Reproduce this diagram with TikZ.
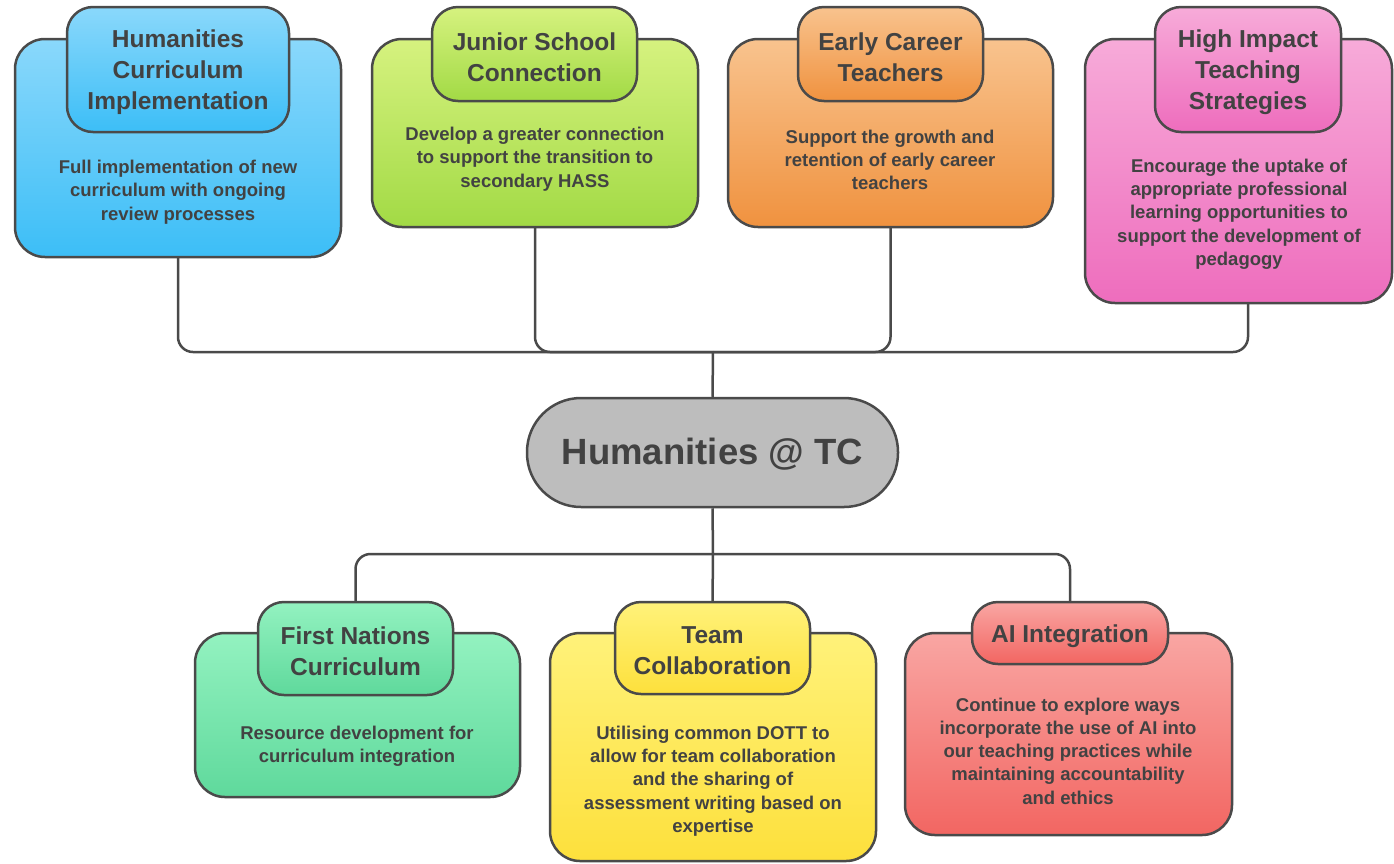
\documentclass[tikz,border=0pt]{standalone}
\usepackage{fontspec}
\setmainfont{Liberation Sans}
\usetikzlibrary{positioning,calc}

% colours of the cards (top / bottom of the shading)
\definecolor{linec}{HTML}{4A4A4A}
\definecolor{textc}{HTML}{424242}
\definecolor{hubc}{HTML}{BDBDBD}
\definecolor{blueT}{HTML}{8AD8FB}
\definecolor{blueB}{HTML}{3CBEF7}
\definecolor{limeT}{HTML}{D6F27F}
\definecolor{limeB}{HTML}{A2DA45}
\definecolor{orangeT}{HTML}{F8C38E}
\definecolor{orangeB}{HTML}{F0923F}
\definecolor{pinkT}{HTML}{F7ABD9}
\definecolor{pinkB}{HTML}{EE6DBD}
\definecolor{mintT}{HTML}{93F2C0}
\definecolor{mintB}{HTML}{5FD99C}
\definecolor{yellowT}{HTML}{FFF27A}
\definecolor{yellowB}{HTML}{FDE03C}
\definecolor{redT}{HTML}{F9A6A3}
\definecolor{redB}{HTML}{F26662}

\tikzset{
  card/.style={draw=linec, line width=2.5pt, rounded corners=30pt,
    inner sep=0pt, outer sep=0pt, anchor=north west},
  tab/.style={draw=linec, line width=2.5pt, rounded corners=26pt,
    inner sep=0pt, outer sep=0pt, anchor=north west},
  title/.style={text=textc, align=center, inner sep=0pt, yshift=-3pt,
    font=\bfseries\fontsize{24.5}{31}\selectfont},
  body/.style={text=textc, align=center, inner sep=0pt,
    font=\bfseries\fontsize{18.5}{23.3}\selectfont},
  link/.style={draw=linec, line width=2.5pt, rounded corners=15pt},
}

\begin{document}
\begin{tikzpicture}[x=1pt, y=-1pt]
    \useasboundingbox (0,0) rectangle (1394,863);

    % top row
    \node[card, top color=blueT, bottom color=blueB, minimum width=326pt, minimum height=218pt] (hci) at (15,39) {};
    \node[tab, top color=blueT, bottom color=blueB, minimum width=222pt, minimum height=125pt] (hci-tab) at (67,7) {};
    \node[title] (hci-ttl) at (hci-tab) {Humanities\\Curriculum\\Implementation};
    \node[body] (hci-txt) at (178,192) {Full implementation of new\\curriculum with ongoing\\review processes};

    \node[card, top color=limeT, bottom color=limeB, minimum width=326pt, minimum height=188pt] (jsc) at (372,39) {};
    \node[tab, top color=limeT, bottom color=limeB, minimum width=205pt, minimum height=94pt] (jsc-tab) at (432,7) {};
    \node[title] (jsc-ttl) at (jsc-tab) {Junior School\\Connection};
    \node[body] (jsc-txt) at (535,159) {Develop a greater connection\\to support the transition to\\secondary HASS};

    \node[card, top color=orangeT, bottom color=orangeB, minimum width=325pt, minimum height=188pt] (ect) at (728,39) {};
    \node[tab, top color=orangeT, bottom color=orangeB, minimum width=185pt, minimum height=94pt] (ect-tab) at (798,7) {};
    \node[title] (ect-ttl) at (ect-tab) {Early Career\\Teachers};
    \node[body] (ect-txt) at (890,160) {Support the growth and\\retention of early career\\teachers};

    \node[card, top color=pinkT, bottom color=pinkB, minimum width=307pt, minimum height=264pt] (hit) at (1085,39) {};
    \node[tab, top color=pinkT, bottom color=pinkB, minimum width=186pt, minimum height=125pt] (hit-tab) at (1155,7) {};
    \node[title] (hit-ttl) at (hit-tab) {High Impact\\Teaching\\Strategies};
    \node[body] (hit-txt) at (1239,214) {Encourage the uptake of\\appropriate professional\\learning opportunities to\\support the development of\\pedagogy};

    % centre
    \node[draw=linec, line width=2.5pt, fill=hubc, rounded corners=54pt, inner sep=0pt,
      minimum width=371pt, minimum height=109pt] (hub) at (712.5,452.5) {};
    \node[text=textc, inner sep=0pt, yshift=-2pt,
      font=\bfseries\fontsize{36.5}{40}\selectfont] (hub-ttl) at (hub) {Humanities @ TC};

    % bottom row
    \node[card, top color=mintT, bottom color=mintB, minimum width=325pt, minimum height=164pt] (fnc) at (195,633) {};
    \node[tab, top color=mintT, bottom color=mintB, minimum width=195pt, minimum height=93pt] (fnc-tab) at (258,602) {};
    \node[title] (fnc-ttl) at (fnc-tab) {First Nations\\Curriculum};
    \node[body] (fnc-txt) at (357,746) {Resource development for\\curriculum integration};

    \node[card, top color=yellowT, bottom color=yellowB, minimum width=326pt, minimum height=228pt] (tcol) at (550,633) {};
    \node[tab, top color=yellowT, bottom color=yellowB, minimum width=195pt, minimum height=92pt] (tcol-tab) at (615,602) {};
    \node[title] (tcol-ttl) at (tcol-tab) {Team\\Collaboration};
    \node[body] (tcol-txt) at (713,781) {Utilising common DOTT to\\allow for team collaboration\\and the sharing of\\assessment writing based on\\expertise};

    \node[card, top color=redT, bottom color=redB, minimum width=327pt, minimum height=202pt] (ai) at (905,633) {};
    \node[tab, top color=redT, bottom color=redB, minimum width=196pt, minimum height=62pt] (ai-tab) at (972,602) {};
    \node[title] (ai-ttl) at (ai-tab) {AI Integration};
    \node[body] (ai-txt) at (1068,751) {Continue to explore ways\\incorporate the use of AI into\\our teaching practices while\\maintaining accountability\\and ethics};

    % connectors
    \coordinate (topbus) at (713,352);
    \coordinate (botbus) at (713,554);
    \draw[link] (hci.south) |- (topbus);
    \draw[link] (jsc.south) |- (topbus);
    \draw[link] (ect.south) |- (topbus);
    \draw[link] (hit-tab.south |- hit.south) |- (topbus);
    \draw[link] (topbus) -- (hub.north);
    \draw[link] (hub.south) -- (botbus);
    \draw[link] (botbus) -| (fnc-tab.north);
    \draw[link] (botbus) -- (tcol-tab.north);
    \draw[link] (botbus) -| (ai-tab.north);
\end{tikzpicture}
\end{document}
